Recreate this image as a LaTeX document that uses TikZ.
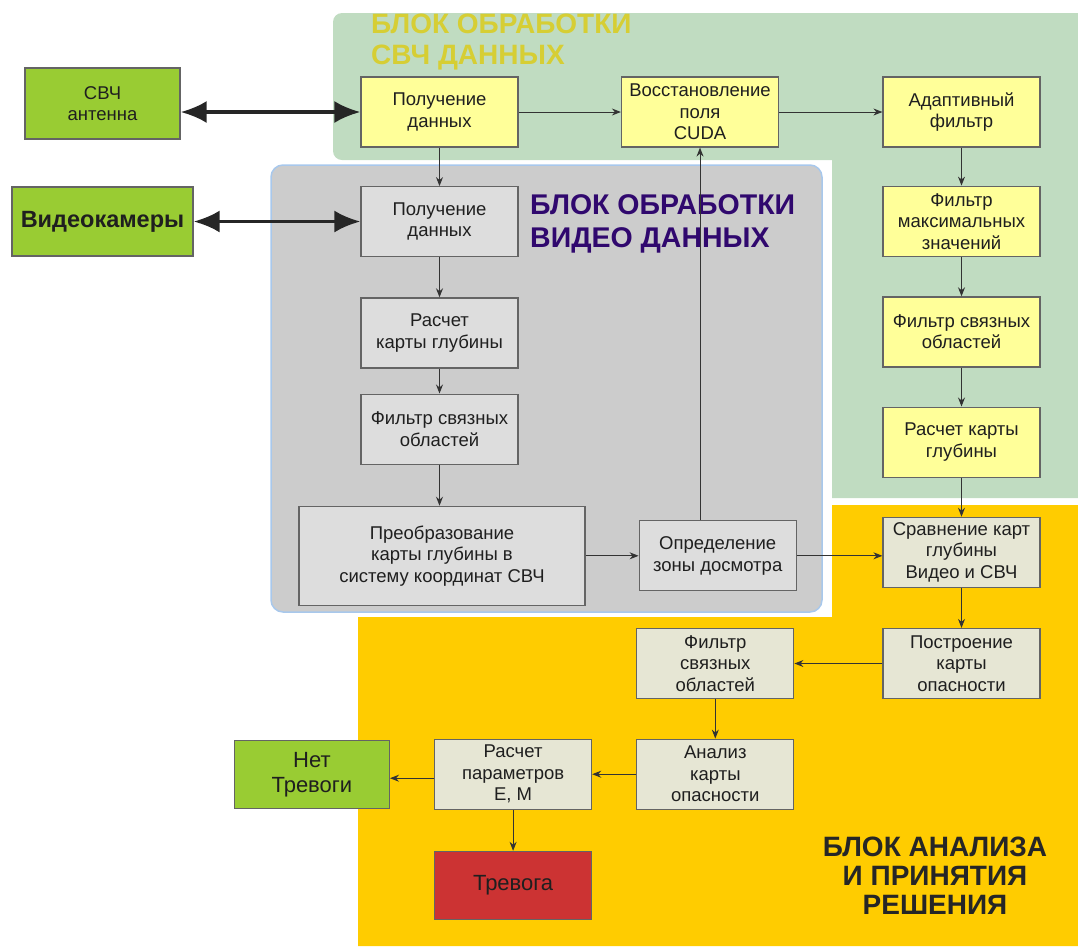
\documentclass[tikz,border=0pt]{standalone}
\usepackage{fontspec}
\setmainfont{Liberation Sans}
\usepackage{xcolor}
\usetikzlibrary{arrows.meta,positioning,calc}

\definecolor{mwpanel}{RGB}{192,220,193}
\definecolor{vidpanel}{RGB}{204,204,204}
\definecolor{videdge}{RGB}{168,200,236}
\definecolor{decpanel}{RGB}{255,204,0}
\definecolor{mwfill}{RGB}{255,255,153}
\definecolor{vidfill}{RGB}{221,221,221}
\definecolor{decfill}{RGB}{230,230,212}
\definecolor{srcfill}{RGB}{153,204,51}
\definecolor{alarmfill}{RGB}{204,51,51}
\definecolor{mwtext}{RGB}{214,206,52}
\definecolor{vidtext}{RGB}{48,8,110}
\definecolor{boxline}{RGB}{100,100,100}

\begin{document}
\begin{tikzpicture}[x=1pt, y=-1pt,
  node distance=39.5pt and 44pt,
  box/.style={draw=boxline, line width=1.2pt, minimum width=157pt, minimum height=70pt,
    inner sep=1pt, align=center, text=black!88, font=\fontsize{18.5}{21.5}\selectfont},
  mwbox/.style={box, fill=mwfill},
  vidbox/.style={box, fill=vidfill},
  decbox/.style={box, fill=decfill},
  srcbox/.style={box, fill=srcfill},
  alarmbox/.style={box, fill=alarmfill},
  title/.style={font=\fontsize{28}{31}\selectfont\bfseries, align=left, inner sep=0pt},
  arr/.style={-{Stealth[length=9pt,width=7pt]}, line width=1pt, black!80},
  link/.style={{Latex[length=26pt,width=22pt]}-{Latex[length=26pt,width=22pt]}, line width=3.5pt, black!85}]
  \useasboundingbox (0,0) rectangle (1078,946);
  % panels
  \fill[mwpanel] (333,13) [rounded corners=9pt] -- (333,160) [sharp corners] -- (832,160) -- (832,498) -- (1078,498) -- (1078,13) [rounded corners=9pt] -- cycle;
  \fill[decpanel] (358,617) -- (832,617) -- (832,505) -- (1078,505) -- (1078,946) -- (358,946) -- cycle;
  \draw[videdge, fill=vidpanel, line width=1.5pt, rounded corners=12pt] (271,165) rectangle (822,612);
  % panel titles
  \node[title, text=mwtext, anchor=north west] (mwtitle) at (371,14) {БЛОК ОБРАБОТКИ\\СВЧ ДАННЫХ};
  \node[title, text=vidtext, anchor=north west, font=\fontsize{28.5}{33}\selectfont\bfseries] (vidtitle) at (530,194) {БЛОК ОБРАБОТКИ\\ВИДЕО ДАННЫХ};
  \node[title, text=black!85, align=center, font=\fontsize{28}{29}\selectfont\bfseries] (dectitle) at (935,876) {БЛОК АНАЛИЗА\\И ПРИНЯТИЯ\\РЕШЕНИЯ};
  % sources
  \node[srcbox, minimum width=155pt, minimum height=71pt] (ant) at (102.5,103.5) {СВЧ\\антенна};
  \node[srcbox, minimum width=181pt, minimum height=69pt, font=\fontsize{23.5}{26}\selectfont\bfseries] (cam) at (102.5,221.5) {Видеокамеры};
  % microwave chain
  \node[mwbox] (mrx) at (439.5,112) {Получение\\данных};
  \node[mwbox] (rest) at (700,112) {Восстановление\\поля\\CUDA};
  \node[mwbox] (adapt) at (961.5,112) {Адаптивный\\фильтр};
  \node[mwbox, below=38pt of adapt] (maxf) {Фильтр\\максимальных\\значений};
  \node[mwbox, below=of maxf] (mconn) {Фильтр связных\\областей};
  \node[mwbox, below=39pt of mconn] (mdepth) {Расчет карты\\глубины};
  % video chain
  \node[vidbox, below=38.5pt of mrx] (vrx) {Получение\\данных};
  \node[vidbox, below=40pt of vrx] (vdepth) {Расчет\\карты глубины};
  \node[vidbox, below=25pt of vdepth] (vconn) {Фильтр связных\\областей};
  \node[vidbox, below=41pt of vconn, xshift=2.5pt, minimum width=286pt, minimum height=99pt] (conv) {Преобразование\\карты глубины в\\систему координат СВЧ};
  \node[vidbox, right=53pt of conv] (zone) {Определение\\зоны досмотра};
  % decision chain
  \node[decbox, below=39pt of mdepth] (cmp) {Сравнение карт\\глубины\\Видео и СВЧ};
  \node[decbox, below=40pt of cmp] (danger) {Построение\\карты\\опасности};
  \node[decbox, left=88pt of danger] (dfilt) {Фильтр\\связных\\областей};
  \node[decbox, below=of dfilt] (anal) {Анализ\\карты\\опасности};
  \node[decbox, left=of anal] (par) {Расчет\\параметров\\Е, М};
  \node[srcbox, left=of par, minimum width=155pt, minimum height=68pt, font=\fontsize{22}{25}\selectfont] (noal) {Нет\\Тревоги};
  \node[alarmbox, below=41pt of par, minimum height=68pt, font=\fontsize{22}{25}\selectfont] (alarm) {Тревога};
  % arrows
  \draw[link] (mrx.west -| ant.east) -- (mrx.west);
  \draw[link] (cam.east) -- (cam.east -| vrx.west);
  \draw[arr] (mrx) -- (rest);
  \draw[arr] (rest) -- (adapt);
  \draw[arr] (adapt) -- (maxf);
  \draw[arr] (maxf) -- (mconn);
  \draw[arr] (mconn) -- (mdepth);
  \draw[arr] (mdepth) -- (cmp);
  \draw[arr] (cmp) -- (danger);
  \draw[arr] (mrx) -- (vrx);
  \draw[arr] (vrx) -- (vdepth);
  \draw[arr] (vdepth) -- (vconn);
  \draw[arr] (vconn.south) -- (vconn.south |- conv.north);
  \draw[arr] (conv) -- (zone);
  \draw[arr] (rest.south |- zone.north) -- (rest.south);
  \draw[arr] (zone.east) -- (zone.east -| cmp.west);
  \draw[arr] (danger) -- (dfilt);
  \draw[arr] (dfilt) -- (anal);
  \draw[arr] (anal) -- (par);
  \draw[arr] ([yshift=-4pt]par.west) -- ([yshift=-4pt]par.west -| noal.east);
  \draw[arr] (par) -- (alarm);
\end{tikzpicture}
\end{document}
